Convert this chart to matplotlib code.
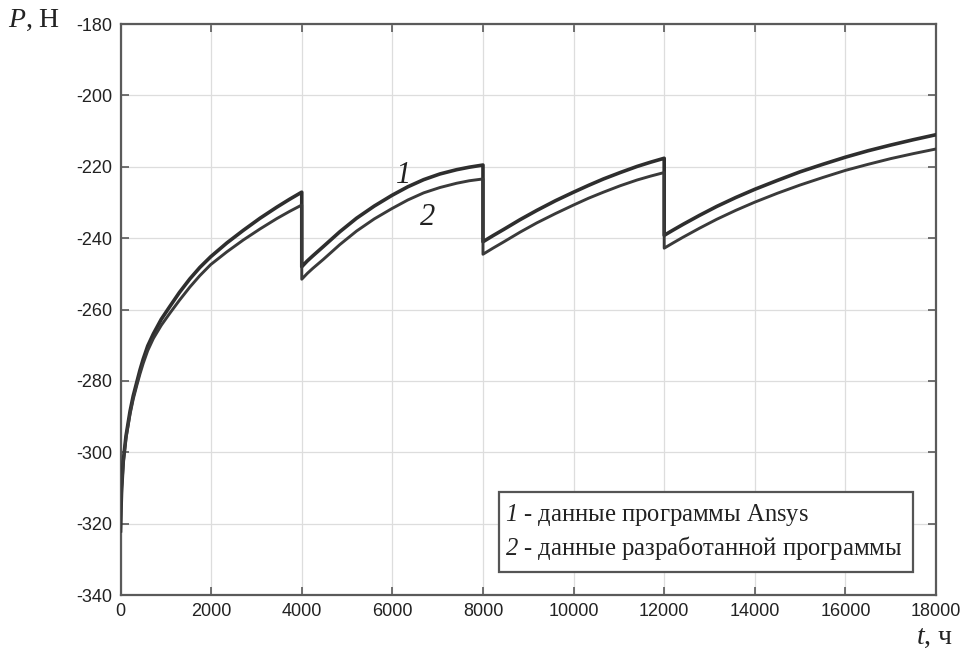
import matplotlib
matplotlib.use("Agg")
import matplotlib.pyplot as plt
from matplotlib.patches import Rectangle

plt.rcParams["font.family"] = ["Liberation Serif", "DejaVu Serif"]
plt.rcParams["mathtext.fontset"] = "custom"
# mathtext draws digits with the rm font, so make rm italic too
plt.rcParams["mathtext.it"] = "Liberation Serif:italic"
plt.rcParams["mathtext.rm"] = "Liberation Serif:italic"
plt.rcParams["axes.unicode_minus"] = False

# curve 1 - Ansys, curve 2 - developed program (t in hours, P in N)
t1 = [0, 10, 25, 60, 120, 210, 280, 360, 430, 500, 600, 725, 900, 1090, 1300, 1530, 1750, 1990,
      2350, 2710, 3080, 3450, 3730, 4000,
      4000, 4120, 4240, 4480, 4840, 5210, 5600, 5990, 6340, 6690, 7050, 7420, 7700, 8000,
      8000, 8220, 8450, 8820, 9190, 9600, 10000, 10330, 10660, 11030, 11400, 11700, 12000,
      12000, 12200, 12420, 12780, 13160, 13580, 14000, 14500, 15000, 15500, 16000, 16500,
      17000, 17500, 18000]
p1 = [-322, -316, -310, -302.5, -295.5, -288.5, -284.2, -280.3, -276.9, -273.9, -270.2, -266.8,
      -262.7, -259.1, -255.2, -251.4, -248.2, -245.2,
      -241.3, -237.8, -234.4, -231.3, -229.1, -227.1,
      -248, -246.4, -245.0, -242.3, -238.2, -234.4, -231, -228, -225.6, -223.6, -222, -220.8, -220.1, -219.5,
      -241, -239.3, -237.6, -234.8, -232.2, -229.5, -227.1, -225.2, -223.4, -221.6, -219.9, -218.7, -217.6,
      -239.2, -237.7, -236.1, -233.6, -231.1, -228.6, -226.3, -223.8, -221.4, -219.3, -217.3, -215.5,
      -213.9, -212.4, -211.0]

t2 = list(t1)
p2 = [-322, -316.3, -310.4, -303, -296.1, -289.3, -285.1, -281.2, -278, -275.1, -271.5, -268.1,
      -264.4, -261.0, -257.4, -253.7, -250.5, -247.4,
      -243.8, -240.5, -237.4, -234.5, -232.5, -230.7,
      -251.5, -249.9, -248.5, -245.9, -241.8, -238, -234.6, -231.7, -229.3, -227.3, -225.8, -224.6, -223.9, -223.4,
      -244.5, -242.8, -241.1, -238.3, -235.7, -233.1, -230.7, -228.8, -227.1, -225.3, -223.7, -222.6, -221.6,
      -242.8, -241.3, -239.7, -237.2, -234.7, -232.2, -229.9, -227.4, -225.1, -223.0, -221.0, -219.3,
      -217.7, -216.3, -215.0]

x_ticks = list(range(0, 18001, 2000))
y_ticks = list(range(-340, -179, 20))
legend_lines = [r"$1$ - данные программы Ansys",
                r"$2$ - данные разработанной программы"]

fig = plt.figure(figsize=(9.62, 6.51), dpi=100)
ax = fig.add_axes([0.1253, 0.086, 0.8477, 0.877])

ax.plot(t1, p1, color="#2e2e2e", lw=2.6, zorder=3)
ax.plot(t2, p2, color="#3a3a3a", lw=2.1, zorder=3)

ax.set_xlim(0, 18000)
ax.set_ylim(-340, -180)
ax.set_xticks(x_ticks)
ax.set_yticks(y_ticks)
ax.grid(True, color="#dddddd", lw=0.9)
ax.set_axisbelow(True)
for s in ax.spines.values():
    s.set_color("#5a5a5a")
    s.set_linewidth(1.6)
ax.tick_params(direction="in", length=6, width=1.2, color="#5a5a5a",
               top=True, right=True, labelsize=13, pad=6)
for lab in ax.get_xticklabels() + ax.get_yticklabels():
    lab.set_family(["Liberation Sans", "DejaVu Sans"])
    lab.set_color("#222222")

# curve labels
ax.text(6214, -222.3, r"$1$", fontsize=22, ha="center", va="center", color="#222")
ax.text(6766, -234.3, r"$2$", fontsize=22, ha="center", va="center", color="#222")

# legend box
ax.add_patch(Rectangle((0.464, 0.040), 0.508, 0.140, transform=ax.transAxes,
                       fc="white", ec="#555555", lw=1.6, zorder=4))
ax.text(0.4715, 0.140, legend_lines[0], transform=ax.transAxes, fontsize=17.7,
        ha="left", va="center", color="#222", zorder=5)
ax.text(0.4715, 0.082, legend_lines[1], transform=ax.transAxes, fontsize=17.7,
        ha="left", va="center", color="#222", zorder=5)

fig.text(0.0083, 0.969, r"$P$, Н", fontsize=20, ha="left", va="center", color="#222")
fig.text(0.991, 0.02, r"$t$, ч", fontsize=20, ha="right", va="center", color="#222")

fig.savefig("out.png", dpi=100)
